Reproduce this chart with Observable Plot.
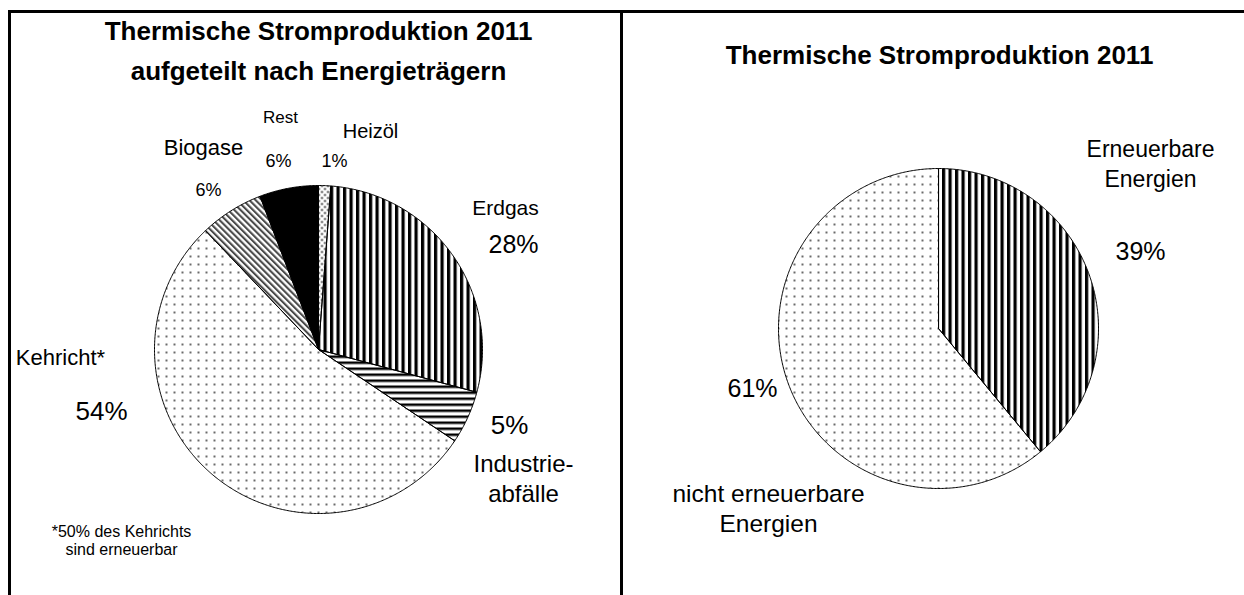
<!DOCTYPE html>
<html><head><meta charset="utf-8">
<script src="https://cdn.jsdelivr.net/npm/d3@7"></script>
<script src="https://cdn.jsdelivr.net/npm/@observablehq/plot@0.6"></script>
<style>
body{margin:0;background:#fff;font-family:"Liberation Sans",Arial,sans-serif;}
#page{position:relative;width:1244px;height:595px;overflow:hidden;background:#fff;}
.rule{position:absolute;background:#000;}
.panel{position:absolute;}
</style></head><body>
<div id="page">
<svg width="0" height="0" style="position:absolute">
  <defs>
    <pattern id="pat-vert" patternUnits="userSpaceOnUse" width="6.5" height="10">
      <rect x="0" y="0" width="3.2" height="10" fill="#000"/>
    </pattern>
    <pattern id="pat-horz" patternUnits="userSpaceOnUse" width="10" height="6">
      <rect x="0" y="0" width="10" height="2.5" fill="#000"/>
    </pattern>
    <pattern id="pat-diag" patternUnits="userSpaceOnUse" width="4.4" height="10" patternTransform="rotate(-45)">
      <rect x="0" y="0" width="2.1" height="10" fill="#4a4a4a"/>
    </pattern>
    <pattern id="pat-dots" patternUnits="userSpaceOnUse" width="8" height="8">
      <circle cx="3" cy="3" r="1.05" fill="#444"/>
    </pattern>
    <pattern id="pat-heiz" patternUnits="userSpaceOnUse" width="6" height="6">
      <circle cx="1.5" cy="1.5" r="1.1" fill="#222"/>
      <circle cx="4.5" cy="4.5" r="1.1" fill="#222"/>
    </pattern>
  </defs>
</svg>
<div class="rule" style="left:8px;top:10px;width:1236px;height:3px"></div>
<div class="rule" style="left:8px;top:10px;width:3px;height:585px"></div>
<div class="rule" style="left:620px;top:10px;width:3px;height:585px"></div>
<div class="panel" id="left" style="left:11px;top:13px"></div>
<div class="panel" id="right" style="left:623px;top:13px"></div>
</div>
<script>
// ---------- data ----------
const leftCategories = ["Heizöl", "Erdgas", "Industrieabfälle", "Kehricht", "Biogase", "Rest"];
const leftValues = [1.2, 28.0, 5.2, 53.5, 6.3, 5.8];
const leftPctLabels = ["1%", "28%", "5%", "54%", "6%", "6%"];
const leftNameLabels = ["Heizöl", "Erdgas", "Industrie-\nabfälle", "Kehricht*", "Biogase", "Rest"];
const leftTitle = "Thermische Stromproduktion 2011\naufgeteilt nach Energieträgern";
const footnote = "*50% des Kehrichts\nsind erneuerbar";

const rightCategories = ["Erneuerbare Energien", "nicht erneuerbare Energien"];
const rightValues = [39, 61];
const rightPctLabels = ["39%", "61%"];
const rightNameLabels = ["Erneuerbare\nEnergien", "nicht erneuerbare\nEnergien"];
const rightTitle = "Thermische Stromproduktion 2011";

// ---------- styles / layout ----------
const leftFills = ["url(#pat-heiz)", "url(#pat-vert)", "url(#pat-horz)", "url(#pat-dots)", "url(#pat-diag)", "#000"];
const rightFills = ["url(#pat-vert)", "url(#pat-dots)"];
const FONT = "'Liberation Sans', Arial, Helvetica, sans-serif";

// panel: page offset and size; pie center in page pixels; radius
const leftLayout = {ox: 11, oy: 13, w: 609, h: 582, cx: 318, cy: 349, r: 164};
const rightLayout = {ox: 623, oy: 13, w: 621, h: 582, cx: 938, cy: 328, r: 160};

// label placement (page pixels): x, y, font size, line height (em)
const leftNamePos = [[370,130,20,1.2],[505,206,21,1.2],[523,477,24,1.25],[60,356,22,1.2],[203,146,22,1.2],[280,116,17,1.2]];
const leftPctPos  = [[334,160,18,1.2],[513,243,25,1.2],[509,424,26,1.2],[101,410,26,1.2],[208,189,18,1.2],[278,160,18,1.2]];
const rightNamePos = [[1150,162,23,1.3],[768,507,24.5,1.22]];
const rightPctPos  = [[1140,250,25,1.2],[752,387,25,1.2]];

function slices(values, categories) {
  const arcs = d3.pie().sort(null).value(d => d)(values);
  return arcs.map((a, i) => {
    const pts = [{x: 0, y: 0}];
    const n = Math.max(2, Math.ceil((a.endAngle - a.startAngle) / (Math.PI / 360)));
    for (let k = 0; k <= n; k++) {
      const t = a.startAngle + (a.endAngle - a.startAngle) * k / n;
      pts.push({x: Math.sin(t), y: Math.cos(t)});
    }
    pts.push({x: 0, y: 0});
    return {category: categories[i], value: values[i], pts};
  });
}

function drawPanel(L, values, categories, fills, names, namePos, pcts, pctPos, title, titlePos, extra) {
  const toX = px => (px - L.cx) / L.r;
  const toY = py => (L.cy - py) / L.r;
  const xDomain = [toX(L.ox), toX(L.ox + L.w)];
  const yDomain = [toY(L.oy + L.h), toY(L.oy)];
  const sl = slices(values, categories);
  const marks = sl.map((s, i) => Plot.line(s.pts, {
    x: "x", y: "y", fill: fills[i], stroke: "#000", strokeWidth: 1, strokeLinejoin: "round", curve: "linear"
  }));
  const labels = [];
  names.forEach((t, i) => labels.push({x: toX(namePos[i][0]), y: toY(namePos[i][1]), text: t, size: namePos[i][2], weight: "normal", lh: namePos[i][3]}));
  pcts.forEach((t, i) => labels.push({x: toX(pctPos[i][0]), y: toY(pctPos[i][1]), text: t, size: pctPos[i][2], weight: "normal", lh: pctPos[i][3]}));
  labels.push({x: toX(titlePos[0]), y: toY(titlePos[1]), text: title, size: 26, weight: "bold", lh: 1.54});
  if (extra) labels.push({x: toX(extra[0]), y: toY(extra[1]), text: extra[2], size: extra[3], weight: "normal", lh: extra[4]});
  for (const g of d3.groups(labels, d => `${d.size}|${d.weight}|${d.lh}`)) {
    const [size, weight, lh] = g[0].split("|");
    marks.push(Plot.text(g[1], {x: "x", y: "y", text: "text", fontSize: +size, fontWeight: weight,
      lineHeight: +lh, textAnchor: "middle", lineAnchor: "middle", fill: "#000"}));
  }
  return Plot.plot({
    width: L.w, height: L.h, margin: 0,
    x: {domain: xDomain, axis: null},
    y: {domain: yDomain, axis: null},
    style: {fontFamily: FONT, background: "transparent", overflow: "visible"},
    marks
  });
}

document.getElementById("left").appendChild(drawPanel(leftLayout, leftValues, leftCategories, leftFills,
  leftNameLabels, leftNamePos, leftPctLabels, leftPctPos, leftTitle, [318, 47], [121, 540, footnote, 16, 1.12]));
document.getElementById("right").appendChild(drawPanel(rightLayout, rightValues, rightCategories, rightFills,
  rightNameLabels, rightNamePos, rightPctLabels, rightPctPos, rightTitle, [939, 51], null));
</script>
</body></html>
